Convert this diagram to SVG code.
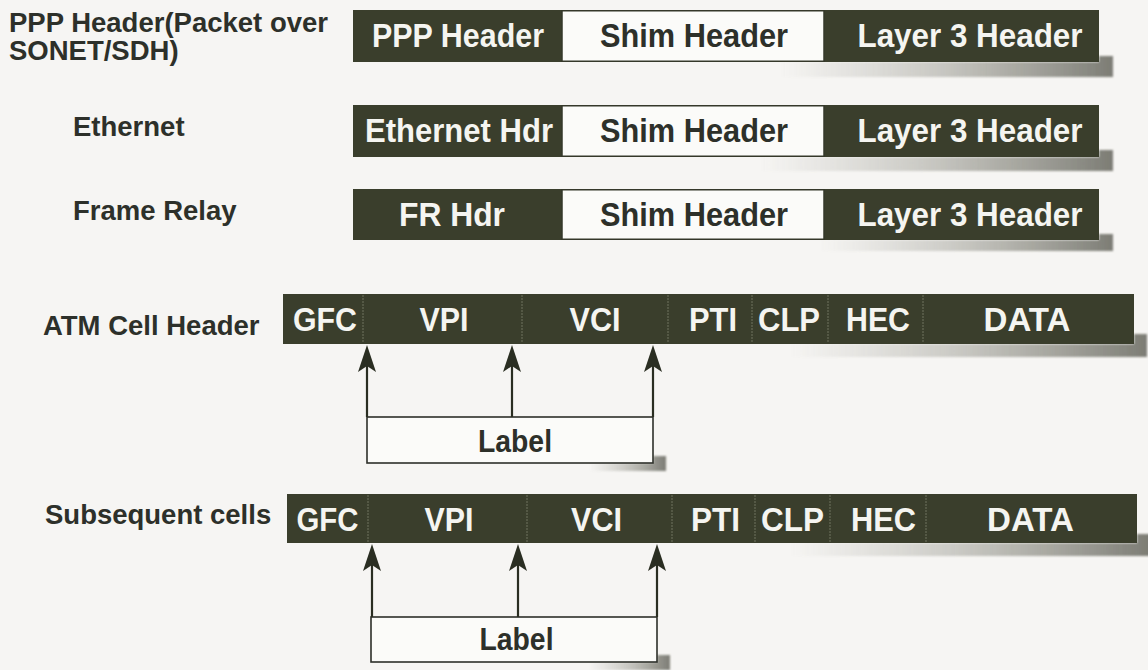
<svg xmlns="http://www.w3.org/2000/svg" width="1148" height="670" viewBox="0 0 1148 670">
  <defs>
    <style>
      .lbl { font-family: "Liberation Sans", Arial, sans-serif; font-weight: bold; font-size: 27.5px; fill: #2d302a; }
      .cw { font-family: "Liberation Sans", Arial, sans-serif; font-weight: bold; font-size: 33px; fill: #f5f5f1; text-anchor: middle; }
      .cb { font-family: "Liberation Sans", Arial, sans-serif; font-weight: bold; font-size: 33px; fill: #2d302a; text-anchor: middle; }
      .lb { font-family: "Liberation Sans", Arial, sans-serif; font-weight: bold; font-size: 31px; fill: #2d302a; text-anchor: middle; }
      .dark { fill: #3a3e2c; }
      .shim { fill: #fbfbf9; stroke: #35382a; stroke-width: 1.5; }
      .div { stroke: #6f725f; stroke-width: 1; stroke-dasharray: 2 1; }
      .box { fill: #fbfbf9; stroke: #2d302a; stroke-width: 1.6; }
      .shadow { fill: url(#shadeGrad); filter: url(#soft); }
      .conn { stroke: #2a2e22; stroke-width: 2.2; fill: none; marker-end: url(#arrow); }
    </style>
    <linearGradient id="shadeGrad" x1="0" y1="0" x2="1" y2="0">
      <stop offset="0" stop-color="#8a8a80" stop-opacity="0"/>
      <stop offset="0.45" stop-color="#7d7d72" stop-opacity="0.35"/>
      <stop offset="1" stop-color="#5e5f55" stop-opacity="0.8"/>
    </linearGradient>
    <filter id="soft" x="-5%" y="-50%" width="110%" height="200%">
      <feGaussianBlur stdDeviation="1.2"/>
    </filter>
    <marker id="arrow" markerUnits="userSpaceOnUse" viewBox="-24 -10 32 20" refX="0" refY="0" markerWidth="32" markerHeight="20" orient="auto">
      <path d="M6,0 L-21,-9 L-15,0 L-21,9 Z" fill="#2a2e22"/>
    </marker>
  </defs>

  <rect x="0" y="0" width="1148" height="670" fill="#f6f5f3"/>

  <!-- drop shadows under the bars -->
  <g id="shadows">
    <path class="shadow" d="M780,62 H1099 V56 H1113 V77 H780 Z"/>
    <path class="shadow" d="M760,157 H1099 V150 H1113 V171 H760 Z"/>
    <path class="shadow" d="M820,240 H1099 V234 H1113 V251 H820 Z"/>
    <path class="shadow" d="M790,344 H1134 V334 H1147 V357 H790 Z"/>
    <path class="shadow" d="M790,543 H1137 V534 H1150 V556 H790 Z"/>
    <path class="shadow" d="M590,463 H653 V456 H666 V471 H590 Z"/>
    <path class="shadow" d="M590,662 H657 V655 H670 V670 H590 Z"/>
  </g>

  <!-- PPP over SONET/SDH -->
  <g id="ppp">
    <text class="lbl" x="9" y="32">PPP Header(Packet over</text>
    <text class="lbl" x="9" y="60">SONET/SDH)</text>
    <rect class="dark" x="353" y="10" width="746" height="52"/>
    <rect class="shim" x="562" y="10.75" width="262" height="50.5"/>
    <text class="cw" x="458" y="47" textLength="172" lengthAdjust="spacingAndGlyphs">PPP Header</text>
    <text class="cb" x="694" y="47" textLength="188" lengthAdjust="spacingAndGlyphs">Shim Header</text>
    <text class="cw" x="970" y="47" textLength="225" lengthAdjust="spacingAndGlyphs">Layer 3 Header</text>
  </g>

  <!-- Ethernet -->
  <g id="ethernet">
    <text class="lbl" x="73" y="136">Ethernet</text>
    <rect class="dark" x="353" y="105" width="746" height="52"/>
    <rect class="shim" x="562" y="105.75" width="262" height="50.5"/>
    <text class="cw" x="459" y="142" textLength="188" lengthAdjust="spacingAndGlyphs">Ethernet Hdr</text>
    <text class="cb" x="694" y="142" textLength="188" lengthAdjust="spacingAndGlyphs">Shim Header</text>
    <text class="cw" x="970" y="142" textLength="225" lengthAdjust="spacingAndGlyphs">Layer 3 Header</text>
  </g>

  <!-- Frame Relay -->
  <g id="frame-relay">
    <text class="lbl" x="73" y="220">Frame Relay</text>
    <rect class="dark" x="353" y="189" width="746" height="51"/>
    <rect class="shim" x="562" y="189.75" width="262" height="49.5"/>
    <text class="cw" x="452" y="226" textLength="106" lengthAdjust="spacingAndGlyphs">FR Hdr</text>
    <text class="cb" x="694" y="226" textLength="188" lengthAdjust="spacingAndGlyphs">Shim Header</text>
    <text class="cw" x="970" y="226" textLength="225" lengthAdjust="spacingAndGlyphs">Layer 3 Header</text>
  </g>

  <!-- ATM cell header -->
  <g id="atm-cell">
    <text class="lbl" x="43" y="335">ATM Cell Header</text>
    <rect class="dark" x="283" y="294" width="851" height="50"/>
    <line class="div" x1="363" y1="295" x2="363" y2="343"/>
    <line class="div" x1="522" y1="295" x2="522" y2="343"/>
    <line class="div" x1="668" y1="295" x2="668" y2="343"/>
    <line class="div" x1="752" y1="295" x2="752" y2="343"/>
    <line class="div" x1="828" y1="295" x2="828" y2="343"/>
    <line class="div" x1="923" y1="295" x2="923" y2="343"/>
    <text class="cw" x="325" y="331" textLength="64" lengthAdjust="spacingAndGlyphs">GFC</text>
    <text class="cw" x="444" y="331" textLength="49" lengthAdjust="spacingAndGlyphs">VPI</text>
    <text class="cw" x="595" y="331" textLength="51" lengthAdjust="spacingAndGlyphs">VCI</text>
    <text class="cw" x="713" y="331" textLength="48" lengthAdjust="spacingAndGlyphs">PTI</text>
    <text class="cw" x="789" y="331" textLength="62" lengthAdjust="spacingAndGlyphs">CLP</text>
    <text class="cw" x="878" y="331" textLength="64" lengthAdjust="spacingAndGlyphs">HEC</text>
    <text class="cw" x="1027" y="331" textLength="87" lengthAdjust="spacingAndGlyphs">DATA</text>
  </g>

  <g id="atm-label">
    <rect class="box" x="367" y="417" width="286" height="46"/>
    <text class="lb" x="515" y="452" textLength="74" lengthAdjust="spacingAndGlyphs">Label</text>
  </g>

  <!-- subsequent cells -->
  <g id="subsequent-cells">
    <text class="lbl" x="45" y="524">Subsequent cells</text>
    <rect class="dark" x="287" y="494" width="850" height="49"/>
    <line class="div" x1="368" y1="495" x2="368" y2="542"/>
    <line class="div" x1="527" y1="495" x2="527" y2="542"/>
    <line class="div" x1="672" y1="495" x2="672" y2="542"/>
    <line class="div" x1="755" y1="495" x2="755" y2="542"/>
    <line class="div" x1="830" y1="495" x2="830" y2="542"/>
    <line class="div" x1="926" y1="495" x2="926" y2="542"/>
    <text class="cw" x="327.5" y="531" textLength="62" lengthAdjust="spacingAndGlyphs">GFC</text>
    <text class="cw" x="449" y="531" textLength="49" lengthAdjust="spacingAndGlyphs">VPI</text>
    <text class="cw" x="596.5" y="531" textLength="51" lengthAdjust="spacingAndGlyphs">VCI</text>
    <text class="cw" x="715.5" y="531" textLength="49" lengthAdjust="spacingAndGlyphs">PTI</text>
    <text class="cw" x="792.5" y="531" textLength="63" lengthAdjust="spacingAndGlyphs">CLP</text>
    <text class="cw" x="883.5" y="531" textLength="65" lengthAdjust="spacingAndGlyphs">HEC</text>
    <text class="cw" x="1030.5" y="531" textLength="87" lengthAdjust="spacingAndGlyphs">DATA</text>
  </g>

  <g id="subsequent-label">
    <rect class="box" x="371" y="617" width="286" height="45"/>
    <text class="lb" x="516.5" y="650" textLength="74" lengthAdjust="spacingAndGlyphs">Label</text>
  </g>

  <!-- arrows from the label boxes up to the header fields -->
  <g id="connectors">
    <line class="conn" x1="367" y1="417" x2="367" y2="351"/>
    <line class="conn" x1="512" y1="417" x2="512" y2="351"/>
    <line class="conn" x1="653" y1="417" x2="653" y2="351"/>
    <line class="conn" x1="372" y1="617" x2="372" y2="550"/>
    <line class="conn" x1="518" y1="617" x2="518" y2="550"/>
    <line class="conn" x1="657" y1="617" x2="657" y2="550"/>
  </g>
</svg>
